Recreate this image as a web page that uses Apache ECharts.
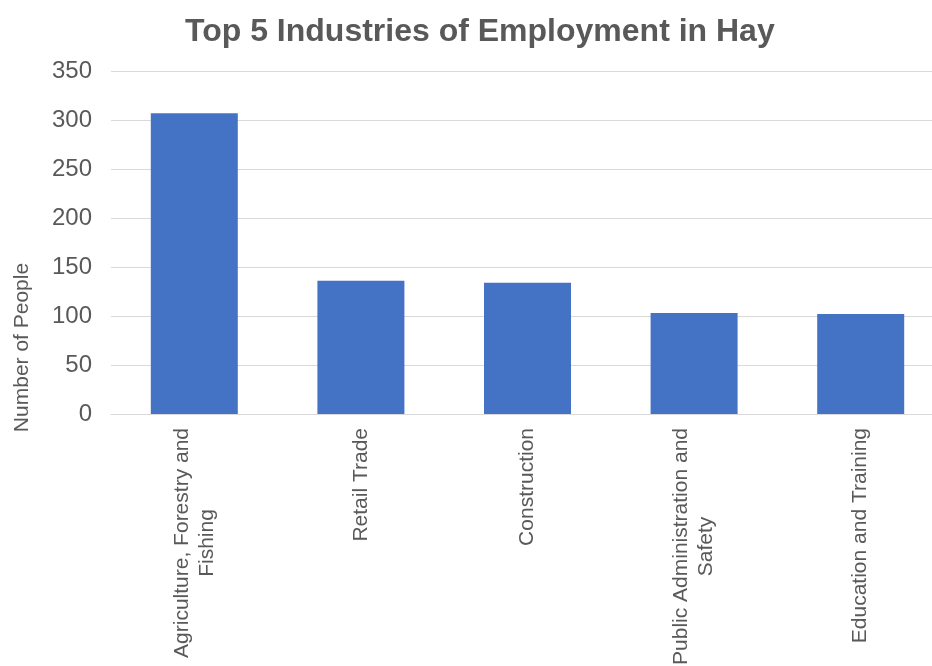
<!DOCTYPE html>
<html>
<head>
<meta charset="utf-8">
<script src="https://cdn.jsdelivr.net/npm/echarts@6/dist/echarts.min.js"></script>
<style>html,body{margin:0;padding:0;background:#fff;}#chart{width:932px;height:666px;}</style>
</head>
<body>
<div id="chart"></div>
<script>
var titleText = 'Top 5 Industries of Employment in Hay';
var categories = ['Agriculture, Forestry and\nFishing', 'Retail Trade', 'Construction', 'Public Administration and\nSafety', 'Education and Training'];
var values = [307, 136, 134, 103, 102];
var yAxisName = 'Number of People';
var yMin = 0, yMax = 350, yStep = 50;

var textColor = '#595959';
var font = '"Liberation Sans", Arial, sans-serif';
var chart = echarts.init(document.getElementById('chart'));
chart.setOption({
  animation: false,
  backgroundColor: '#ffffff',
  title: {
    text: titleText,
    left: 180,
    top: 11,
    textStyle: { color: textColor, fontSize: 32, fontWeight: 'bold', fontFamily: font }
  },
  grid: { left: 111, top: 71, bottom: 252, right: -12, containLabel: false, outerBoundsMode: 'none' },
  xAxis: {
    type: 'category',
    data: categories,
    axisLine: { show: true, lineStyle: { color: '#d9d9d9', width: 1 } },
    axisTick: { show: false },
    axisLabel: {
      rotate: 90,
      margin: 14,
      interval: 0,
      color: textColor,
      fontSize: 21,
      fontFamily: font,
      formatter: function (v) {
        return v.split('\n').map(function (l) { return '{c|' + l + '}'; }).join('\n');
      },
      rich: { c: { align: 'center', fontSize: 21, lineHeight: 25, color: textColor, fontFamily: font } }
    }
  },
  yAxis: {
    type: 'value',
    min: yMin, max: yMax, interval: yStep,
    name: yAxisName,
    nameLocation: 'middle',
    nameGap: 78,
    nameTextStyle: { color: textColor, fontSize: 21, fontFamily: font, padding: [0, 210, 0, 0] },
    axisLine: { show: false },
    axisTick: { show: false },
    axisLabel: { color: textColor, fontSize: 24, fontFamily: font, margin: 19 },
    splitLine: { lineStyle: { color: '#d9d9d9', width: 1 } }
  },
  series: [{
    type: 'bar',
    data: values,
    barWidth: 87,
    itemStyle: { color: '#4472C4' }
  }]
});
</script>
</body>
</html>
